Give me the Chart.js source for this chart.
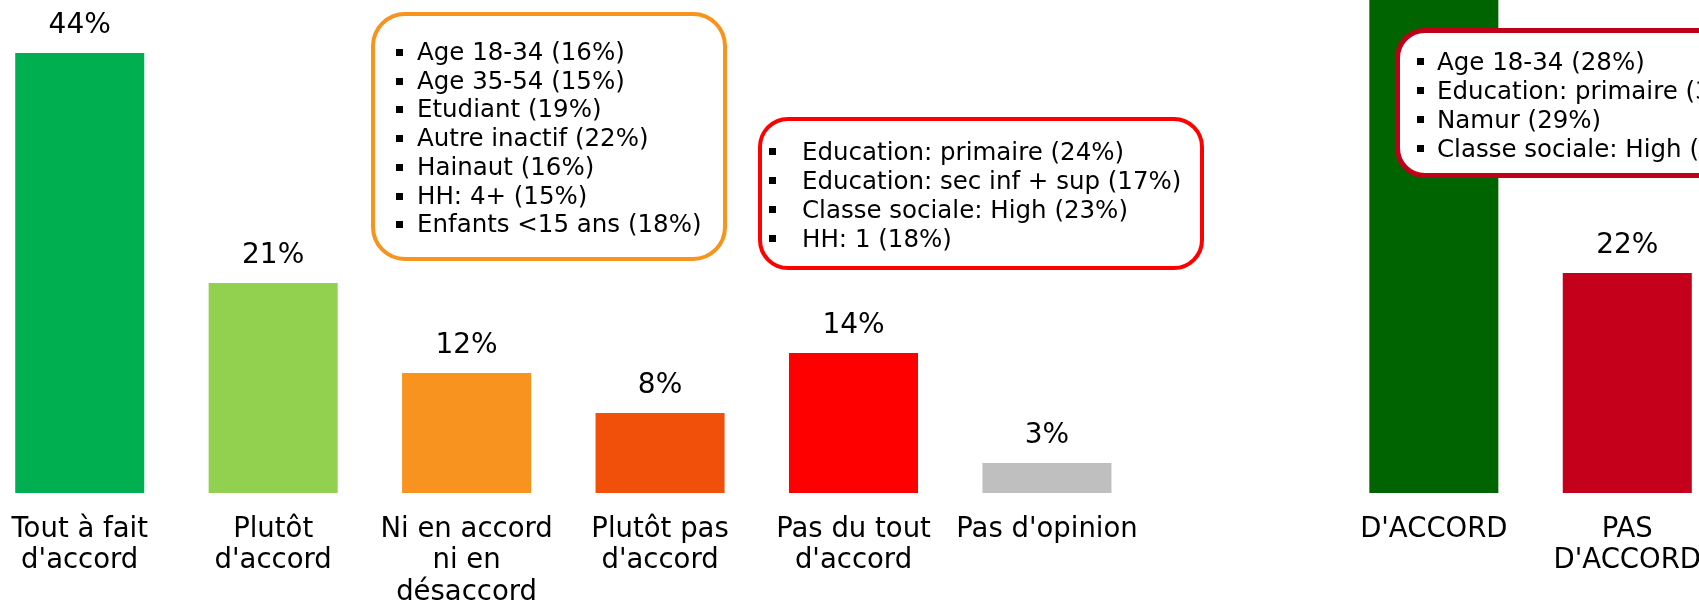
<!DOCTYPE html>
<html>
<head>
<meta charset="utf-8">
<script src="https://cdn.jsdelivr.net/npm/chart.js@4.4.1/dist/chart.umd.min.js"></script>
<style>
  html, body { margin: 0; padding: 0; background: #fff; overflow: hidden; width: 1699px; height: 605px; }
  #wrap { position: absolute; left: -17px; top: -207px; width: 1741px; height: 815px; }
  .box {
    position: absolute; background: #fff; box-sizing: border-box;
    font-family: "DejaVu Sans", Verdana, sans-serif; font-size: 24.5px; line-height: 29px; color: #000;
    white-space: nowrap;
  }
  .box ul { list-style: none; margin: 0; padding: 0; }
  .box li { position: relative; padding-left: 21px; }
  .box li::before { content: ""; position: absolute; left: 0; top: 11px; width: 7px; height: 7px; background: #000; }
  #boxOrange { left: 371px; top: 12px; width: 356px; height: 249px; border: 4.5px solid #F7941D; border-radius: 34px; padding: 22px 0 0 21px; line-height: 28.7px; }
  #boxRed { left: 758px; top: 117px; width: 446px; height: 153px; border: 4.5px solid #FF0000; border-radius: 30px; padding: 16px 0 0 7px; }
  #boxRed li { padding-left: 33px; }
  #boxDark { left: 1395px; top: 28px; width: 420px; height: 150px; border: 5px solid #C00018; border-radius: 30px; padding: 14px 0 0 17px; }
  #boxDark li { padding-left: 20px; }
</style>
</head>
<body>
<div id="wrap"><canvas id="chart" width="1741" height="815"></canvas></div>

<div class="box" id="boxOrange"><ul id="listOrange"></ul></div>
<div class="box" id="boxRed"><ul id="listRed"></ul></div>
<div class="box" id="boxDark"><ul id="listDark"></ul></div>

<script>
const categories = [
  ["Tout à fait", "d'accord"],
  ["Plutôt", "d'accord"],
  ["Ni en accord", "ni en", "désaccord"],
  ["Plutôt pas", "d'accord"],
  ["Pas du tout", "d'accord"],
  "Pas d'opinion",
  "",
  "D'ACCORD",
  ["PAS", "D'ACCORD"]
];
const values = [44, 21, 12, 8, 14, 3, null, 65, 22];
const barColors = ["#00B050", "#92D050", "#F7931E", "#F0500A", "#FF0000", "#BFBFBF", "#ffffff", "#006400", "#C5001A"];

const orangeNotes = ["Age 18-34 (16%)", "Age 35-54 (15%)", "Etudiant (19%)", "Autre inactif (22%)", "Hainaut (16%)", "HH: 4+ (15%)", "Enfants <15 ans (18%)"];
const redNotes = ["Education: primaire (24%)", "Education: sec inf + sup (17%)", "Classe sociale: High (23%)", "HH: 1 (18%)"];
const darkNotes = ["Age 18-34 (28%)", "Education: primaire (31%)", "Namur (29%)", "Classe sociale: High (30%)"];

function fillList(id, items) {
  const ul = document.getElementById(id);
  items.forEach((t) => {
    const li = document.createElement("li");
    li.textContent = t;
    ul.appendChild(li);
  });
}
fillList("listOrange", orangeNotes);
fillList("listRed", redNotes);
fillList("listDark", darkNotes);

const FONT = "DejaVu Sans";

// value labels above the bars
const valueLabels = {
  id: "valueLabels",
  afterDatasetsDraw(chart) {
    const ctx = chart.ctx;
    const meta = chart.getDatasetMeta(0);
    ctx.save();
    ctx.font = "28px " + FONT;
    ctx.fillStyle = "#000";
    ctx.textAlign = "center";
    ctx.textBaseline = "middle";
    meta.data.forEach((bar, i) => {
      if (values[i] == null) return;
      ctx.fillText(values[i] + "%", bar.x, bar.y - 27);
    });
    ctx.restore();
  }
};

new Chart(document.getElementById("chart"), {
  type: "bar",
  data: {
    labels: categories,
    datasets: [{
      data: values,
      backgroundColor: barColors,
      barPercentage: 0.667,
      categoryPercentage: 1
    }]
  },
  options: {
    responsive: false,
    animation: false,
    layout: { padding: 0 },
    plugins: { legend: { display: false }, tooltip: { enabled: false } },
    scales: {
      x: {
        grid: { display: false, drawTicks: false },
        border: { display: false },
        ticks: {
          autoSkip: false, maxRotation: 0, minRotation: 0,
          padding: 21, color: "#000",
          font: { family: FONT, size: 27.5, lineHeight: 1.14 }
        },
        afterFit: (scale) => { scale.height = 115; }
      },
      y: { display: false, min: 0, max: 70 }
    }
  },
  plugins: [valueLabels]
});
</script>
</body>
</html>
